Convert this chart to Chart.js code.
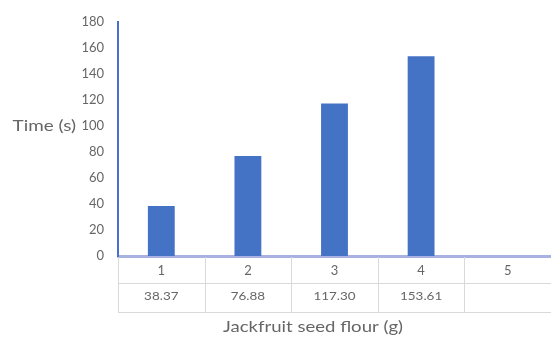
<!DOCTYPE html>
<html>
<head>
<meta charset="utf-8">
<script src="https://cdn.jsdelivr.net/npm/chart.js@4.4.1/dist/chart.umd.min.js"></script>
<style>
  html, body { margin: 0; padding: 0; background: #ffffff; }
  #wrap { width: 551px; height: 340px; }
</style>
</head>
<body>
<div id="wrap"><canvas id="chart" width="551" height="340"></canvas></div>
<script>
// Amount of jackfruit seed flour (g) and the measured time (s)
const categories = ['1', '2', '3', '4', '5'];
const timeValues = [38.37, 76.88, 117.30, 153.61, null];
const yTicks = [0, 20, 40, 60, 80, 100, 120, 140, 160, 180];

const yTitle = 'Time (s)';
const xTitle = 'Jackfruit seed flour (g)';

const FONT = 'Lato, "Open Sans", sans-serif';
const TEXT = '#666666';
const TABLE_LINE = '#d9d9d9';

// Text drawn slightly wide, as in the original sheet
function wideText(ctx, text, x, y, sx) {
  ctx.save();
  ctx.translate(x, y);
  ctx.scale(sx, 1);
  ctx.fillText(text, 0, 0);
  ctx.restore();
}

// Data table under the x axis plus the horizontal axis titles
const tablePlugin = {
  id: 'dataTable',
  afterDraw(chart) {
    const ctx = chart.ctx;
    const x = chart.scales.x;
    const area = chart.chartArea;
    const half = (x.getPixelForValue(1) - x.getPixelForValue(0)) / 2;
    const top = area.bottom;
    const mid = area.bottom + 27;
    const bottom = area.bottom + 56;

    ctx.save();
    ctx.strokeStyle = TABLE_LINE;
    ctx.lineWidth = 1;
    ctx.beginPath();
    for (let i = 0; i <= categories.length; i++) {
      const px = Math.round(x.getPixelForValue(i) - half) + 0.5;
      ctx.moveTo(px, top + 1);
      ctx.lineTo(px, bottom);
    }
    const left = Math.round(x.getPixelForValue(0) - half);
    const right = Math.round(x.getPixelForValue(categories.length - 1) + half);
    ctx.moveTo(left, mid + 0.5);
    ctx.lineTo(right, mid + 0.5);
    ctx.moveTo(left, bottom + 0.5);
    ctx.lineTo(right, bottom + 0.5);
    ctx.stroke();

    // value row
    ctx.fillStyle = TEXT;
    ctx.font = '12px ' + FONT;
    ctx.textAlign = 'center';
    ctx.textBaseline = 'middle';
    timeValues.forEach((v, i) => {
      if (v === null) return;
      wideText(ctx, v.toFixed(2), x.getPixelForValue(i), mid + 13, 1.12);
    });

    // axis titles
    ctx.font = '16px ' + FONT;
    wideText(ctx, xTitle, 313, bottom + 15, 1.16);

    ctx.font = '16px ' + FONT;
    ctx.textAlign = 'right';
    wideText(ctx, yTitle, 76, chart.scales.y.getPixelForValue(100), 1.18);
    ctx.restore();
  }
};

new Chart(document.getElementById('chart'), {
  type: 'bar',
  data: {
    labels: categories,
    datasets: [{
      data: timeValues,
      backgroundColor: '#4472c4',
      borderWidth: 0,
      categoryPercentage: 1,
      barPercentage: 0.31
    }]
  },
  options: {
    responsive: false,
    devicePixelRatio: 1,
    animation: false,
    layout: { padding: { top: 21, right: 0, bottom: 0, left: 0 } },
    plugins: {
      legend: { display: false },
      tooltip: { enabled: false }
    },
    scales: {
      x: {
        grid: { display: false, drawTicks: false },
        border: { display: true, color: '#a9b1e0', width: 3 },
        ticks: {
          color: TEXT,
          font: { family: FONT, size: 13 },
          padding: 7,
          maxRotation: 0
        },
        afterFit(scale) { scale.height = 84; }
      },
      y: {
        min: 0,
        max: 180,
        afterBuildTicks(scale) { scale.ticks = yTicks.map(v => ({ value: v })); },
        grid: { display: false, drawTicks: false },
        border: { display: true, color: '#4a6fd0', width: 2 },
        ticks: {
          color: TEXT,
          font: { family: FONT, size: 13 },
          padding: 14
        },
        afterFit(scale) { scale.width = 118; }
      }
    }
  },
  plugins: [tablePlugin]
});
</script>
</body>
</html>
